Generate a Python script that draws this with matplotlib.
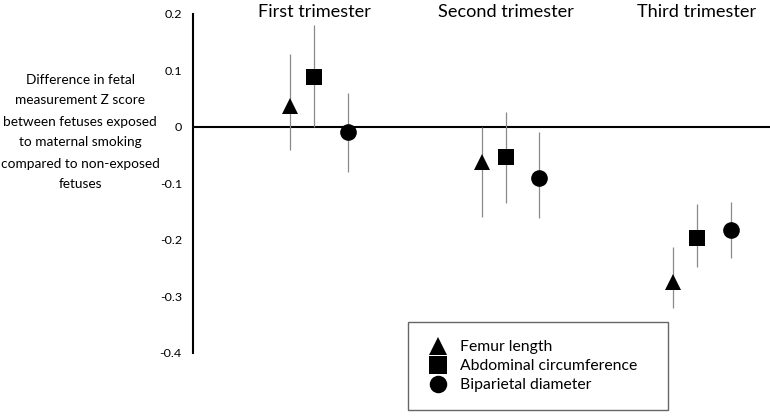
import matplotlib
matplotlib.use("Agg")
import matplotlib.pyplot as plt
from matplotlib.font_manager import FontProperties
import numpy as np

plt.rcParams["font.family"] = ["Lato", "DejaVu Sans"]

trimesters = ["First trimester", "Second trimester", "Third trimester"]

femur = [0.037, -0.062, -0.274]
femur_lo = [-0.04, -0.16, -0.32]
femur_hi = [0.13, 0.0, -0.212]

abdominal = [0.089, -0.053, -0.196]
abdominal_lo = [0.0, -0.135, -0.248]
abdominal_hi = [0.18, 0.027, -0.136]

biparietal = [-0.009, -0.09, -0.182]
biparietal_lo = [-0.08, -0.161, -0.232]
biparietal_hi = [0.06, -0.009, -0.133]

ytick_vals = [-0.4, -0.3, -0.2, -0.1, 0, 0.1, 0.2]
ytick_labels = ["-0.4", "-0.3", "-0.2", "-0.1", "0", "0.1", "0.2"]

ylabel = ("Difference in fetal\nmeasurement Z score\nbetween fetuses exposed\n"
          "to maternal smoking\ncompared to non-exposed\nfetuses")

series = [
    ("Femur length", femur, femur_lo, femur_hi, "^", -0.125),
    ("Abdominal circumference", abdominal, abdominal_lo, abdominal_hi, "s", 0.0),
    ("Biparietal diameter", biparietal, biparietal_lo, biparietal_hi, "o", 0.175),
]

W, H = 770, 417
fig = plt.figure(figsize=(7.7, 4.17), dpi=100)
renderer = fig.canvas.get_renderer()


def text_px(s, size):
    w, h, d = renderer.get_text_width_height_descent(
        s, FontProperties(family=["Lato"], size=size), ismath=False)
    return w, h, d


def fit_size(s, target_px):
    return 10 * target_px / text_px(s, 10)[0]


tick_fs = fit_size("-0.4", 22)
title_fs = fit_size("First trimester", 113)
ylab_fs = fit_size("compared to non-exposed", 158)
leg_fs = fit_size("Abdominal circumference", 177)

ax = fig.add_axes([193 / W, 1 - 353 / H, 1 - 193 / W, (353 - 14) / H])

groups = np.arange(1, len(trimesters) + 1)
for name, vals, lo, hi, mk, off in series:
    v = np.array(vals)
    yerr = [v - np.array(lo), np.array(hi) - v]
    ax.errorbar(groups + off, v, yerr=yerr, fmt="none", ecolor="#8a8a8a",
                elinewidth=0.9, capsize=0, zorder=2)
    ax.plot(groups + off, v, linestyle="none", marker=mk, markersize=12,
            markeredgewidth=0, color="black", label=name, zorder=3)

ax.axhline(0, color="black", linewidth=1.5, zorder=1)

ax.set_xlim(0.368, 3.381)
ax.set_ylim(-0.4, 0.2)
ax.set_yticks(ytick_vals)
ax.set_yticklabels(ytick_labels)
ax.tick_params(axis="y", length=0, pad=8, labelsize=tick_fs)
ax.set_xticks([])
for s in ["top", "right", "bottom"]:
    ax.spines[s].set_visible(False)
ax.spines["left"].set_linewidth(1.5)

for g, t in zip(groups, trimesters):
    ax.text(g, 0.2 - 3 / 565, t, ha="center", va="baseline",
            fontsize=title_fs, clip_on=False)

_, lh, ld = text_px("lp", ylab_fs)
fig.text(80 / W, 1 - 132 / H, ylabel, ha="center", va="center",
         fontsize=ylab_fs, linespacing=19 / (lh - ld))

fs_px = leg_fs * 100 / 72
leg = ax.legend(loc="upper left",
                bbox_to_anchor=(408 / W, 1 - 413 / H, 260 / W, 91 / H),
                bbox_transform=fig.transFigure, mode="expand",
                fontsize=leg_fs, frameon=True, fancybox=False,
                edgecolor="#404040", markerscale=1.05,
                borderpad=18 / fs_px, handlelength=24 / fs_px,
                handletextpad=10 / fs_px, labelspacing=5 / fs_px,
                borderaxespad=0)
leg.get_frame().set_linewidth(1.0)
leg.get_frame().set_facecolor("white")

fig.savefig("out.png", dpi=100)
